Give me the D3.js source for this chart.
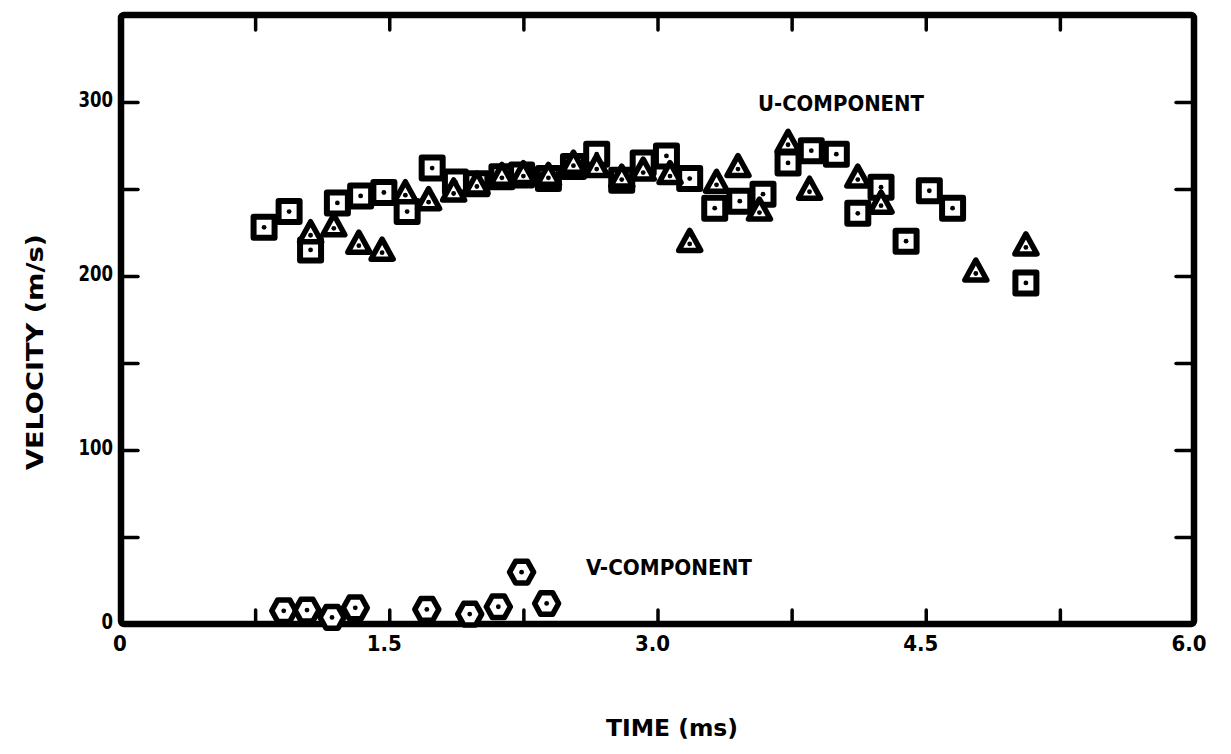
<!DOCTYPE html>
<html>
<head>
<meta charset="utf-8">
<script src="https://cdn.jsdelivr.net/npm/d3@7"></script>
<style>
  html, body { margin: 0; padding: 0; background: #fff; }
  svg { display: block; }
  text { font-family: "DejaVu Sans", sans-serif; font-stretch: condensed; font-weight: bold; fill: #000; }
</style>
</head>
<body>
<svg id="chart" width="1231" height="754"></svg>
<script>
// U-component, square symbols: time (ms), velocity (m/s)
const uSquareTime = [0.80, 0.94, 1.06, 1.21, 1.34, 1.47, 1.60, 1.74, 1.87, 1.99, 2.13, 2.24, 2.39, 2.53, 2.66, 2.80, 2.92, 3.05, 3.18, 3.32, 3.46, 3.59, 3.73, 3.86, 4.00, 4.12, 4.25, 4.39, 4.52, 4.65, 5.06];
const uSquareVel  = [228, 237, 215, 242, 246, 248, 237, 262, 254, 253, 257, 258, 256, 263, 270, 255, 265, 269, 256, 239, 243, 247, 265, 272, 270, 236, 251, 220, 249, 239, 196];

// U-component, triangle symbols
const uTriTime = [1.06, 1.19, 1.33, 1.46, 1.59, 1.72, 1.86, 1.99, 2.13, 2.25, 2.39, 2.53, 2.66, 2.80, 2.92, 3.07, 3.18, 3.33, 3.45, 3.57, 3.73, 3.85, 4.12, 4.25, 4.78, 5.06];
const uTriVel  = [224, 228, 218, 214, 247, 243, 248, 252, 257, 258, 257, 264, 262, 256, 260, 258, 219, 253, 262, 237, 276, 249, 256, 241, 202, 217];

// V-component, hexagon symbols
const vTime = [0.91, 1.04, 1.18, 1.31, 1.71, 1.95, 2.11, 2.24, 2.38];
const vVel  = [7.6, 8.0, 3.8, 9.3, 8.4, 5.7, 9.9, 29.8, 11.8];

// Axis ticks and labels
const xMajorTicks = [0, 1.5, 3.0, 4.5, 6.0];
const xMajorLabels = ["0", "1.5", "3.0", "4.5", "6.0"];
const xMinorTicks = [0.75, 1.5, 2.25, 3.0, 3.75, 4.5, 5.25];
const yMajorTicks = [0, 100, 200, 300];
const yMinorTicks = [50, 100, 150, 200, 250, 300];

const svg = d3.select("#chart");
const plotLeft = 121, plotRight = 1194, plotTop = 15, plotBottom = 624;

const x = d3.scaleLinear().domain([0, 6]).range([plotLeft, plotRight]);
const y = d3.scaleLinear().domain([0, 350]).range([plotBottom, plotTop]);

// Inward tick marks on all four sides
function ticks(axis, transform) {
  const g = svg.append("g").attr("transform", transform).call(axis);
  g.select(".domain").remove();
  g.selectAll(".tick line").attr("stroke", "#000").attr("stroke-width", 3.5).attr("stroke-linecap", "round");
  g.selectAll(".tick text").remove();
  return g;
}
ticks(d3.axisBottom(x).tickValues(xMinorTicks).tickSize(-14), `translate(0,${plotBottom})`);
ticks(d3.axisTop(x).tickValues(xMinorTicks).tickSize(-15), `translate(0,${plotTop})`);
ticks(d3.axisLeft(y).tickValues(yMinorTicks).tickSize(-17), `translate(${plotLeft},0)`);
ticks(d3.axisRight(y).tickValues(yMinorTicks).tickSize(-18), `translate(${plotRight},0)`);

// Frame
svg.append("rect")
  .attr("x", plotLeft).attr("y", plotTop)
  .attr("width", plotRight - plotLeft).attr("height", plotBottom - plotTop)
  .attr("rx", 3)
  .attr("fill", "none").attr("stroke", "#000").attr("stroke-width", 6.5);

// Tick labels
svg.append("g").selectAll("text").data(xMajorTicks).join("text")
  .attr("x", d => x(d) - (d === 0 ? 1 : 5))
  .attr("y", plotBottom + 27)
  .attr("text-anchor", "middle")
  .attr("font-size", 22)
  .text((d, i) => xMajorLabels[i]);

svg.append("g").selectAll("text").data(yMajorTicks).join("text")
  .attr("x", plotLeft - 8)
  .attr("y", d => y(d) + 5)
  .attr("text-anchor", "end")
  .attr("font-size", 21)
  .attr("textLength", d => String(d).length * 11.5).attr("lengthAdjust", "spacingAndGlyphs")
  .text(d => d);

// Axis titles
svg.append("text")
  .attr("transform", `translate(43,352) rotate(-90)`)
  .attr("text-anchor", "middle")
  .attr("font-size", 23)
  .attr("textLength", 236).attr("lengthAdjust", "spacingAndGlyphs")
  .text("VELOCITY (m/s)");

svg.append("text")
  .attr("x", 672).attr("y", 736)
  .attr("text-anchor", "middle")
  .attr("font-size", 23)
  .attr("textLength", 132).attr("lengthAdjust", "spacingAndGlyphs")
  .text("TIME (ms)");

// Series labels
svg.append("text")
  .attr("x", 758).attr("y", 111)
  .attr("font-size", 22)
  .attr("textLength", 166).attr("lengthAdjust", "spacingAndGlyphs")
  .text("U-COMPONENT");

svg.append("text")
  .attr("x", 586).attr("y", 575)
  .attr("font-size", 22)
  .attr("textLength", 166).attr("lengthAdjust", "spacingAndGlyphs")
  .text("V-COMPONENT");

// Marker shapes
const squarePath = "M-10.5,-10.5H10.5V10.5H-10.5Z";
const triPath = "M0,-12.5L11,7.5L-11,7.5Z";
const hexPts = d3.range(6).map(k => {
  const a = k * Math.PI / 3;
  return [12 * Math.cos(a), 12.5 * Math.sin(a)];
});
const hexPath = "M" + hexPts.map(p => p.join(",")).join("L") + "Z";

function plotSeries(times, vels, path, sw, dotDy) {
  const g = svg.append("g");
  const pts = times.map((t, i) => ({ t, v: vels[i] }));
  const m = g.selectAll("g").data(pts).join("g")
    .attr("transform", d => `translate(${x(d.t)},${y(d.v)})`);
  m.append("path")
    .attr("d", path)
    .attr("fill", "#fff")
    .attr("stroke", "#000")
    .attr("stroke-width", sw)
    .attr("stroke-linejoin", "round");
  m.append("circle").attr("cx", 0).attr("cy", dotDy).attr("r", 2.4).attr("fill", "#000");
}

plotSeries(uSquareTime, uSquareVel, squarePath, 6, 0);
plotSeries(uTriTime, uTriVel, triPath, 5.5, 1);
plotSeries(vTime, vVel, hexPath, 5.5, 0);
</script>
</body>
</html>
